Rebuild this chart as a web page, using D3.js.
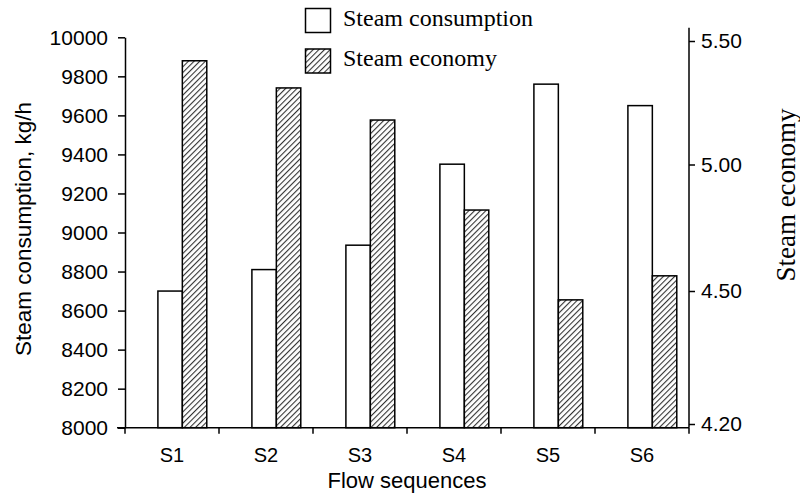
<!DOCTYPE html>
<html>
<head>
<meta charset="utf-8">
<script src="https://cdn.jsdelivr.net/npm/d3@7"></script>
<style>
  html, body { margin: 0; padding: 0; background: #fff; }
  svg { display: block; }
</style>
</head>
<body>
<svg id="chart" width="800" height="495"></svg>
<script>
// ---- data ----
const categories = ["S1", "S2", "S3", "S4", "S5", "S6"];
const steamConsumption = [8700, 8810, 8935, 9350, 9760, 9650];
const steamEconomy = [5.42, 5.31, 5.18, 4.82, 4.48, 4.56];
const leftTicks = [8000, 8200, 8400, 8600, 8800, 9000, 9200, 9400, 9600, 9800, 10000];
const rightTicks = [4.20, 4.50, 5.00, 5.50];
const seriesNames = ["Steam consumption", "Steam economy"];

// ---- layout ----
const plotLeft = 125, plotRight = 689;
const plotBottom = 427.7, plotTop = 37.3;

const svg = d3.select("#chart");

// hatch pattern
const defs = svg.append("defs");
const pat = defs.append("pattern")
  .attr("id", "hatch")
  .attr("patternUnits", "userSpaceOnUse")
  .attr("width", 4).attr("height", 4)
  .attr("patternTransform", "rotate(45)");
pat.append("rect").attr("width", 4).attr("height", 4).attr("fill", "#fff");
pat.append("line").attr("x1", 0).attr("y1", 0).attr("x2", 0).attr("y2", 4)
  .attr("stroke", "#333").attr("stroke-width", 2.2);

// scales
const x = d3.scaleBand().domain(categories).range([plotLeft, plotRight]).padding(0);
const yL = d3.scaleLinear().domain([8000, 10000]).range([plotBottom, plotTop]);
// right axis as drawn in the source figure (uneven tick spacing)
const yR = d3.scaleLinear().domain([4.2, 4.5, 5.0, 5.5]).range([424, 291, 164.5, 41]);

const bw = x.bandwidth();
const sans = "Liberation Sans, Arial, sans-serif";
const serif = "Liberation Serif, Times New Roman, serif";

// bars: consumption
svg.append("g").selectAll("rect")
  .data(categories)
  .join("rect")
  .attr("x", (d) => x(d) + bw * 0.35)
  .attr("width", bw * 0.26)
  .attr("y", (d, i) => yL(steamConsumption[i]))
  .attr("height", (d, i) => plotBottom - yL(steamConsumption[i]))
  .attr("fill", "#fff").attr("stroke", "#000").attr("stroke-width", 1.5);

// bars: economy
svg.append("g").selectAll("rect")
  .data(categories)
  .join("rect")
  .attr("x", (d) => x(d) + bw * 0.61)
  .attr("width", bw * 0.26)
  .attr("y", (d, i) => yR(steamEconomy[i]))
  .attr("height", (d, i) => plotBottom - yR(steamEconomy[i]))
  .attr("fill", "url(#hatch)").attr("stroke", "#000").attr("stroke-width", 1.5);

// left axis
const gL = svg.append("g").attr("transform", `translate(${plotLeft},0)`)
  .call(d3.axisLeft(yL).tickValues(leftTicks).tickSize(7).tickSizeOuter(0).tickPadding(10).tickFormat(d3.format("d")));
gL.select(".domain").attr("stroke-width", 1.5);
gL.selectAll(".tick line").attr("stroke-width", 1.5);
gL.selectAll("text").attr("font-family", sans).attr("font-size", 21).attr("fill", "#000");

// right axis
const gR = svg.append("g").attr("transform", `translate(${plotRight},0)`)
  .call(d3.axisRight(yR).tickValues(rightTicks).tickSize(6).tickSizeOuter(0).tickPadding(6).tickFormat(d3.format(".2f")));
gR.select(".domain").remove();
gR.selectAll(".tick line").attr("stroke-width", 1.5);
gR.selectAll("text").attr("font-family", sans).attr("font-size", 21).attr("fill", "#000");
svg.append("line").attr("x1", plotRight).attr("x2", plotRight).attr("y1", 27.7).attr("y2", plotBottom)
  .attr("stroke", "#000").attr("stroke-width", 1.5);

// x axis: ticks at category boundaries
const gX = svg.append("g").attr("transform", `translate(0,${plotBottom})`);
gX.append("line").attr("x1", plotLeft - 8).attr("x2", plotRight).attr("y1", 0).attr("y2", 0)
  .attr("stroke", "#000").attr("stroke-width", 1.5);
const boundaries = categories.map((c) => x(c)).concat([x(categories[categories.length - 1]) + bw]);
gX.selectAll(".bt").data(boundaries).join("line")
  .attr("x1", (d) => d).attr("x2", (d) => d).attr("y1", 0).attr("y2", 6)
  .attr("stroke", "#000").attr("stroke-width", 1.5);
gX.selectAll(".lbl").data(categories).join("text")
  .attr("x", (d) => x(d) + bw / 2)
  .attr("y", 34)
  .attr("text-anchor", "middle")
  .attr("font-family", sans).attr("font-size", 20)
  .text((d) => d);

// axis titles
svg.append("text")
  .attr("x", (plotLeft + plotRight) / 2).attr("y", 488)
  .attr("text-anchor", "middle")
  .attr("font-family", sans).attr("font-size", 22)
  .text("Flow sequences");

svg.append("text")
  .attr("transform", "translate(31,229) rotate(-90)")
  .attr("text-anchor", "middle")
  .attr("font-family", sans).attr("font-size", 22.5)
  .text("Steam consumption, kg/h");

svg.append("text")
  .attr("transform", "translate(795,195) rotate(-90)")
  .attr("text-anchor", "middle")
  .attr("font-family", serif).attr("font-size", 27)
  .text("Steam economy");

// legend
const legend = svg.append("g");
const legFills = ["#fff", "url(#hatch)"];
const legY = [8.5, 49];
seriesNames.forEach((name, i) => {
  legend.append("rect")
    .attr("x", 305.5).attr("y", legY[i]).attr("width", 25).attr("height", 24)
    .attr("fill", legFills[i]).attr("stroke", "#000").attr("stroke-width", 1.5);
  legend.append("text")
    .attr("x", 343).attr("y", legY[i] + 17)
    .attr("font-family", serif).attr("font-size", 24)
    .text(name);
});
</script>
</body>
</html>
